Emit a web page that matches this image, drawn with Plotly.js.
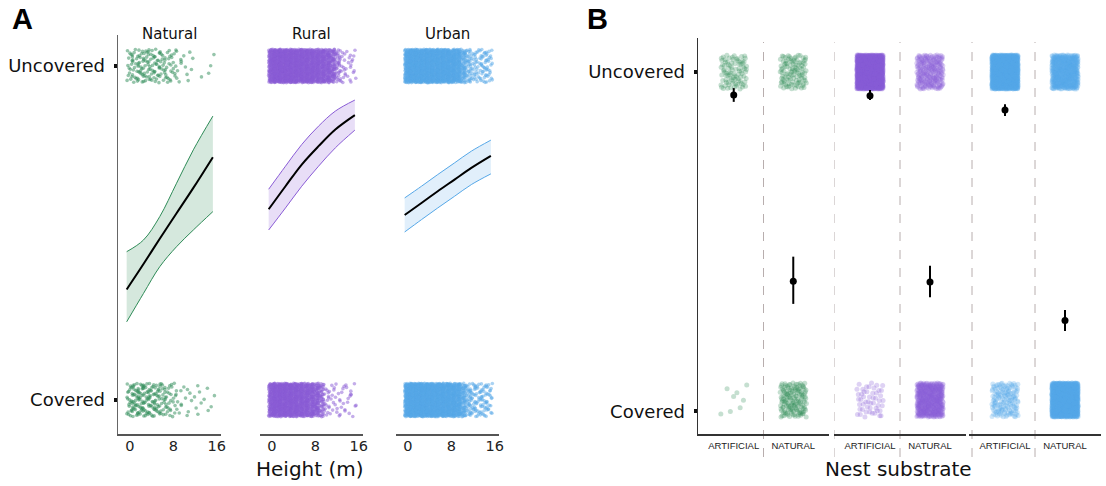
<!DOCTYPE html>
<html>
<head>
<meta charset="utf-8">
<script src="https://cdn.plot.ly/plotly-3.0.1.min.js"></script>
<style>html,body{margin:0;padding:0;background:#fff;}#chart{width:1106px;height:486px;}</style>
</head>
<body>
<div id="chart"></div>
<script>
// ---------------- DATA ----------------
// Panel A: nest height (m) bins (bin centres) and number of nests per bin, read from the jitter clouds
const heightBins = [0,1,2,3,4,5,6,7,8,9,10,11,12,13,14,15];
const naturalUncovered = [15,18,20,20,18,18,16,14,12,6,4,3,1,1,0,3];
const naturalCovered   = [24,28,28,26,24,22,20,16,12,6,4,4,3,3,3,2];
const ruralUncovered   = [140,150,150,150,145,140,135,130,120,110,100,85,40,14,10,9];
const ruralCovered     = [130,140,140,135,130,120,110,100,90,60,16,10,9,8,8,6];
const urbanUncovered   = [150,160,160,160,155,150,145,140,130,120,70,40,25,20,25,22];
const urbanCovered     = [160,170,170,165,160,155,150,140,130,120,80,40,28,26,26,22];

// Panel A: fitted probability of "Uncovered" vs height with 95% band
const curveHeights = [-0.6, 2.5, 5.5, 8.6, 11.7, 15.3];
const naturalMean = [0.331,0.407,0.483,0.559,0.635,0.727];
const naturalHigh = [0.444,0.479,0.549,0.649,0.749,0.850];
const naturalLow  = [0.234,0.319,0.399,0.459,0.509,0.564];
const ruralMean   = [0.571,0.640,0.705,0.760,0.810,0.853];
const ruralHigh   = [0.631,0.700,0.765,0.820,0.865,0.898];
const ruralLow    = [0.509,0.575,0.640,0.700,0.755,0.808];
const urbanMean   = [0.554,0.590,0.625,0.660,0.695,0.731];
const urbanHigh   = [0.605,0.640,0.675,0.710,0.745,0.778];
const urbanLow    = [0.503,0.540,0.575,0.610,0.645,0.677];

// Panel B: nest substrate categories, counts per cell and estimated probabilities
const habitats = ['Natural','Rural','Urban'];
const substrates = ['ARTIFICIAL','NATURAL'];
const countsUncoveredB = [[90,110],[1400,230],[1400,520]];
const countsCoveredB   = [[8,150],[50,420],[150,1400]];
const meanB  = [[0.930,0.362],[0.928,0.360],[0.884,0.242]];
const lowB   = [[0.909,0.293],[0.915,0.313],[0.866,0.210]];
const highB  = [[0.951,0.437],[0.945,0.409],[0.902,0.274]];

const yLabels = ['Covered','Uncovered'];
const heightTicks = [0,8,16];

// ---------------- STYLE ----------------
const colors = ['#2E8B57','#8A5CD6','#56A8E8'];
const fills = ['rgba(46,139,87,0.2)','rgba(138,92,214,0.2)','rgba(86,168,232,0.18)'];
const FONT = 'DejaVu Sans';

// deterministic jitter layout (Halton sequence; positions only, not data)
function halton(k, b) { let f = 1, r = 0; while (k > 0) { f /= b; r += f * (k % b); k = Math.floor(k / b); } return r; }
let seedCounter = 1;
function jitterCloud(centers, counts, base, wx, wy) {
  const xs = [], ys = [];
  let k = seedCounter * 7919;
  seedCounter++;
  for (let i = 0; i < centers.length; i++) {
    for (let j = 0; j < counts[i]; j++) {
      k++;
      const u = halton(k, 2), v = halton(k, 3);
      xs.push(centers[i] + (u - 0.5) * 2 * wx);
      ys.push(base + (v - 0.5) * 2 * wy);
    }
  }
  return {xs, ys};
}

const traces = [];
const aAxes = ['x','x2','x3'];
const aSets = [
  [naturalUncovered, naturalCovered, naturalMean, naturalLow, naturalHigh],
  [ruralUncovered, ruralCovered, ruralMean, ruralLow, ruralHigh],
  [urbanUncovered, urbanCovered, urbanMean, urbanLow, urbanHigh]
];
aSets.forEach((s, h) => {
  [[s[0],1],[s[1],0]].forEach(([counts, base]) => {
    const c = jitterCloud(heightBins, counts, base, 0.6, 0.05);
    traces.push({type:'scatter', mode:'markers', x:c.xs, y:c.ys, xaxis:aAxes[h], yaxis:'y',
      marker:{size:3.6, color:colors[h], opacity:0.5, line:{width:0}}, hoverinfo:'skip'});
  });
  traces.push({type:'scatter', mode:'lines', x:curveHeights, y:s[4], xaxis:aAxes[h], yaxis:'y',
    line:{color:colors[h], width:1, shape:'spline'}, hoverinfo:'skip'});
  traces.push({type:'scatter', mode:'lines', x:curveHeights, y:s[3], xaxis:aAxes[h], yaxis:'y',
    line:{color:colors[h], width:1, shape:'spline'}, fill:'tonexty', fillcolor:fills[h], hoverinfo:'skip'});
  traces.push({type:'scatter', mode:'lines', x:curveHeights, y:s[2], xaxis:aAxes[h], yaxis:'y',
    line:{color:'#000', width:2, shape:'spline'}, hoverinfo:'skip'});
});

const bAxes = ['x4','x5','x6'];
habitats.forEach((hab, h) => {
  [[countsUncoveredB[h],1],[countsCoveredB[h],0]].forEach(([counts, base]) => {
    const c = jitterCloud([0,1], counts, base, 0.22, 0.052);
    traces.push({type:'scatter', mode:'markers', x:c.xs, y:c.ys, xaxis:bAxes[h], yaxis:'y2',
      marker:{size:5, color:colors[h], opacity:0.28, line:{width:0}}, hoverinfo:'skip'});
  });
  traces.push({type:'scatter', mode:'markers', x:[0,1], y:meanB[h], xaxis:bAxes[h], yaxis:'y2',
    marker:{size:7, color:'#000'},
    error_y:{type:'data', symmetric:false,
      array:meanB[h].map((m,i)=>highB[h][i]-m), arrayminus:meanB[h].map((m,i)=>m-lowB[h][i]),
      color:'#000', thickness:2, width:0}, hoverinfo:'skip'});
});

// ---------------- LAYOUT ----------------
const W = 1106, H = 486;
const px = v => v / W, py = v => 1 - v / H;

function aX(l, r) {
  return {domain:[px(l), px(r)], range:[-2.2,16.8], anchor:'y', tickvals:heightTicks,
    showline:true, linecolor:'#555', linewidth:1.5, ticks:'', showgrid:false, zeroline:false,
    tickfont:{family:FONT, size:14.5, color:'#222'}, ticklabelstandoff:-2, fixedrange:true};
}
function bX(l, r) {
  return {domain:[px(l), px(r)], range:[-0.6,1.6], anchor:'y2', tickvals:[0,1], ticktext:substrates,
    showline:true, linecolor:'#333', linewidth:1.5, ticks:'', showgrid:false, zeroline:false,
    tickfont:{family:'Liberation Sans', size:9.5, color:'#222'}, ticklabelstandoff:2, fixedrange:true};
}

const shapes = [];
function dashAt(xref, x) {
  shapes.push({type:'line', xref:xref, yref:'paper', x0:x, x1:x, y0:py(457), y1:py(42),
    line:{color:'#b8aeae', width:1, dash:'dash'}, layer:'below'});
}
dashAt('x4', 0.5); dashAt('x5', -0.6); dashAt('x5', 0.5); dashAt('x6', -0.55); dashAt('x6', 0.5);

const ann = [];
function txt(text, x, y, size, family, extra) {
  ann.push(Object.assign({text:text, xref:'paper', yref:'paper', x:px(x), y:py(y), showarrow:false,
    xanchor:'center', yanchor:'middle', font:{family:family||FONT, size:size, color:'#111'}}, extra||{}));
}
txt('Natural', 169.5, 34, 15);
txt('Rural', 311.5, 34, 15);
txt('Urban', 447.5, 34, 15);
txt('Height (m)', 310, 469, 20);
txt('Nest substrate', 898, 469, 20);
txt('<b>A</b>', 22, 19, 29, 'Liberation Sans', {font:{family:'Liberation Sans', size:29, color:'#000'}});
txt('<b>B</b>', 597, 19, 29, 'Liberation Sans', {font:{family:'Liberation Sans', size:29, color:'#000'}});

const layout = {
  width:W, height:H, margin:{l:0,r:0,t:0,b:0}, autosize:false, showlegend:false,
  paper_bgcolor:'#fff', plot_bgcolor:'rgba(0,0,0,0)',
  xaxis:aX(118,221), xaxis2:aX(260,363), xaxis3:aX(396,499),
  yaxis:{domain:[py(434), py(35)], range:[-0.1018,1.0928], anchor:'x', tickvals:[0,1], ticktext:yLabels,
    showline:true, linecolor:'#666', linewidth:1.5, ticks:'outside', ticklen:3, tickwidth:4, tickcolor:'#111',
    showgrid:false, zeroline:false, tickfont:{family:FONT, size:18, color:'#111'}, ticklabelstandoff:5, fixedrange:true},
  xaxis4:bX(698,829), xaxis5:bX(834,966), xaxis6:bX(969,1101),
  yaxis2:{domain:[py(434), py(38)], range:[-0.1037,1.1037], anchor:'x4', tickvals:[-0.035,1], ticktext:yLabels,
    showline:true, linecolor:'#333', linewidth:1.5, ticks:'outside', ticklen:3, tickwidth:4, tickcolor:'#111',
    showgrid:false, zeroline:false, tickfont:{family:FONT, size:18, color:'#111'}, ticklabelstandoff:5, fixedrange:true},
  shapes:shapes, annotations:ann
};

Plotly.newPlot('chart', traces, layout, {staticPlot:true, displayModeBar:false});
</script>
</body>
</html>
